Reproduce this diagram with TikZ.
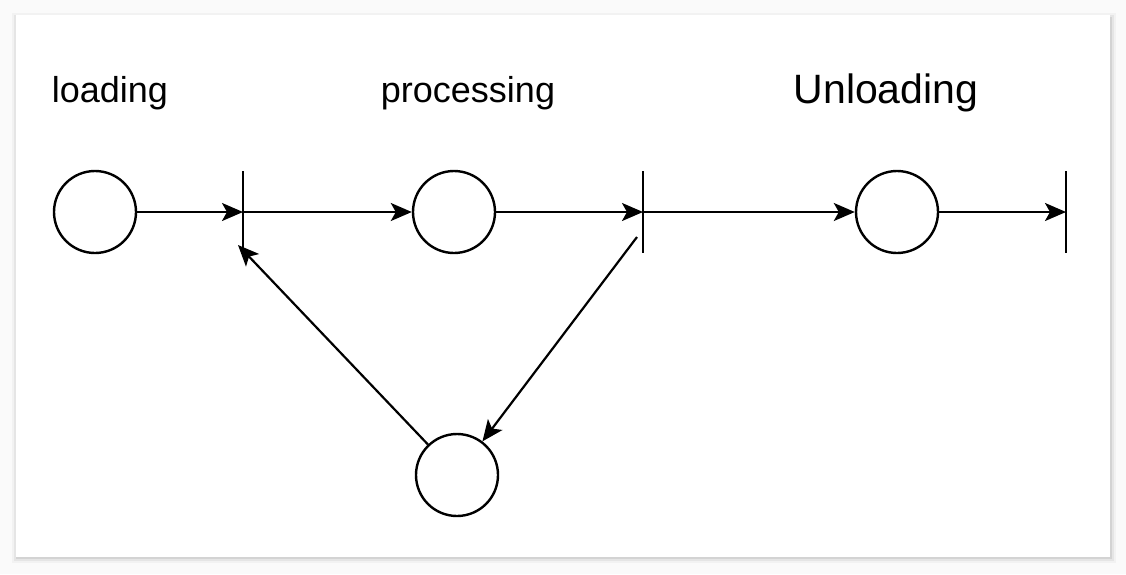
\documentclass[tikz,border=0pt]{standalone}
\usepackage{fontspec}
\setmainfont{Liberation Sans}
\usetikzlibrary{arrows.meta}
\begin{document}
\begin{tikzpicture}[x=1pt,y=-1pt,
  place/.style={draw,circle,minimum size=82pt,inner sep=0pt,line width=2.4pt},
  flow/.style={line width=2.2pt,-{Stealth[length=21pt,width=18pt,inset=5pt]}},
  bar/.style={line width=2.4pt},
  lbl/.style={font=\fontsize{36}{40}\selectfont,inner sep=0pt}]
  % page background and card
  \useasboundingbox (0,0) rectangle (1126,574);
  \fill[black!2] (0,0) rectangle (1126,574);
  \foreach \d/\o in {6/3,4/5,2/8}{
    \fill[black,opacity=0.0\o] (16-\d+2,15-\d+4) rectangle (1110+\d,557+\d);
  }
  \fill[white] (16,15) rectangle (1110,557);

  % titles
  \node[lbl] (tload) at (110,93) {loading};
  \node[lbl] (tproc) at (468,93) {processing};
  \node[lbl,font=\fontsize{41}{45}\selectfont] (tunl) at (886,93) {Unloading};

  % places
  \node[place] (p1) at (95,212) {};
  \node[place] (p2) at (454,212) {};
  \node[place] (p3) at (897,212) {};
  \node[place] (p4) at (457,475) {};

  % transitions (vertical bars)
  \coordinate (t1) at (243,212);
  \coordinate (t2) at (643,212);
  \coordinate (t3) at (1066,212);
  \draw[bar] (243,171) -- (243,253);
  \draw[bar] (643,171) -- (643,253);
  \draw[bar] (1066,171) -- (1066,253);

  % arcs
  \draw[flow] (p1) -- (t1);
  \draw[flow] (t1) -- (p2);
  \draw[flow] (p2) -- (t2);
  \draw[flow] (t2) -- (p3);
  \draw[flow] (p3) -- (t3);

  \coordinate (t2out) at (637,237);
  \coordinate (t1in) at (238,245);
  \draw[flow] (t2out) -- (p4);
  \draw[flow] (p4) -- (t1in);
\end{tikzpicture}
\end{document}
